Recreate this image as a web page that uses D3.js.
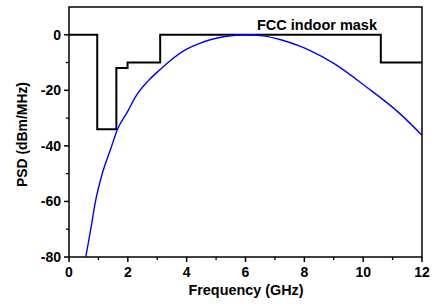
<!DOCTYPE html>
<html>
<head>
<meta charset="utf-8">
<script src="https://cdn.jsdelivr.net/npm/d3@7"></script>
<style>
body { margin: 0; background: #fff; }
text { font-family: "Liberation Sans", Arial, sans-serif; font-weight: bold; }
</style>
</head>
<body>
<script>
// FCC indoor mask, normalised (x = GHz, y = dB), step after each point
var maskX = [0, 0.96, 1.61, 1.99, 3.1, 10.6, 12];
var maskY = [0, -34, -12, -10, 0, -10, -10];

// spectrum curve
var psdX = [0.57, 0.74, 0.9, 1.13, 1.42, 1.65, 2.0, 2.25, 2.7, 3.1, 3.4, 4.0, 4.4, 4.8, 5.3, 6.0, 6.6, 7.2, 7.85, 8.2, 9.0, 10.1, 11.24, 12];
var psdY = [-80, -70, -60, -50, -41, -34, -27.5, -22.5, -16.5, -12.5, -9.7, -5.2, -3.3, -1.8, -0.6, 0, -0.4, -1.8, -4.1, -5.7, -10.3, -18.7, -28.3, -36.2];

var xTicks = [0, 2, 4, 6, 8, 10, 12];
var yTicks = [0, -20, -40, -60, -80];

var W = 433, H = 304;
var m = {left: 69, right: 11, top: 7, bottom: 47};

var svg = d3.select("body").append("svg").attr("width", W).attr("height", H);

var x = d3.scaleLinear().domain([0, 12]).range([m.left, W - m.right]);
var y = d3.scaleLinear().domain([-80, 10]).range([H - m.bottom, m.top]);

// frame
svg.append("rect")
	.attr("x", x(0)).attr("y", y(10))
	.attr("width", x(12) - x(0)).attr("height", y(-80) - y(10))
	.attr("fill", "none").attr("stroke", "#000").attr("stroke-width", 1.5);

// minor ticks
var xMinor = d3.range(1, 12, 2);
var yMinor = [-10, -30, -50, -70];

var xa = svg.append("g").attr("transform", "translate(0," + y(-80) + ")");
xa.selectAll("line.minor").data(xMinor).enter().append("line")
	.attr("x1", function(d){return x(d)}).attr("x2", function(d){return x(d)})
	.attr("y1", 0).attr("y2", 3).attr("stroke", "#000").attr("stroke-width", 1.3);
xa.selectAll("line.major").data(xTicks).enter().append("line")
	.attr("x1", function(d){return x(d)}).attr("x2", function(d){return x(d)})
	.attr("y1", 0).attr("y2", 5).attr("stroke", "#000").attr("stroke-width", 1.5);
xa.selectAll("text").data(xTicks).enter().append("text")
	.attr("x", function(d){return x(d)}).attr("y", 19.5)
	.attr("text-anchor", "middle").attr("font-size", 14)
	.text(function(d){return d});

var ya = svg.append("g").attr("transform", "translate(" + x(0) + ",0)");
ya.selectAll("line.minor").data(yMinor).enter().append("line")
	.attr("y1", function(d){return y(d)}).attr("y2", function(d){return y(d)})
	.attr("x1", 0).attr("x2", -3).attr("stroke", "#000").attr("stroke-width", 1.3);
ya.selectAll("line.major").data(yTicks).enter().append("line")
	.attr("y1", function(d){return y(d)}).attr("y2", function(d){return y(d)})
	.attr("x1", 0).attr("x2", -5).attr("stroke", "#000").attr("stroke-width", 1.5);
ya.selectAll("text").data(yTicks).enter().append("text")
	.attr("x", -8).attr("y", function(d){return y(d)})
	.attr("dy", "0.36em")
	.attr("text-anchor", "end").attr("font-size", 14)
	.text(function(d){return d});

// mask
var maskData = maskX.map(function(v, i){ return [v, maskY[i]]; });
svg.append("path")
	.datum(maskData)
	.attr("fill", "none").attr("stroke", "#000").attr("stroke-width", 2)
	.attr("d", d3.line().x(function(d){return x(d[0])}).y(function(d){return y(d[1])}).curve(d3.curveStepAfter));

// psd curve
var psdData = psdX.map(function(v, i){ return [v, psdY[i]]; });
svg.append("path")
	.datum(psdData)
	.attr("fill", "none").attr("stroke", "#0000ff").attr("stroke-width", 1.4)
	.attr("d", d3.line().x(function(d){return x(d[0])}).y(function(d){return y(d[1])}).curve(d3.curveMonotoneX));

svg.append("text")
	.attr("x", 257).attr("y", 29.5)
	.attr("font-size", 15.5)
	.attr("textLength", 120).attr("lengthAdjust", "spacingAndGlyphs")
	.text("FCC indoor mask");

// axis titles
svg.append("text")
	.attr("x", 188.5).attr("y", 295)
	.attr("font-size", 15.5)
	.attr("textLength", 115).attr("lengthAdjust", "spacingAndGlyphs")
	.text("Frequency (GHz)");

svg.append("text")
	.attr("transform", "translate(27,187) rotate(-90)")
	.attr("font-size", 14.5)
	.attr("textLength", 105).attr("lengthAdjust", "spacingAndGlyphs")
	.text("PSD (dBm/MHz)");
</script>
</body>
</html>
